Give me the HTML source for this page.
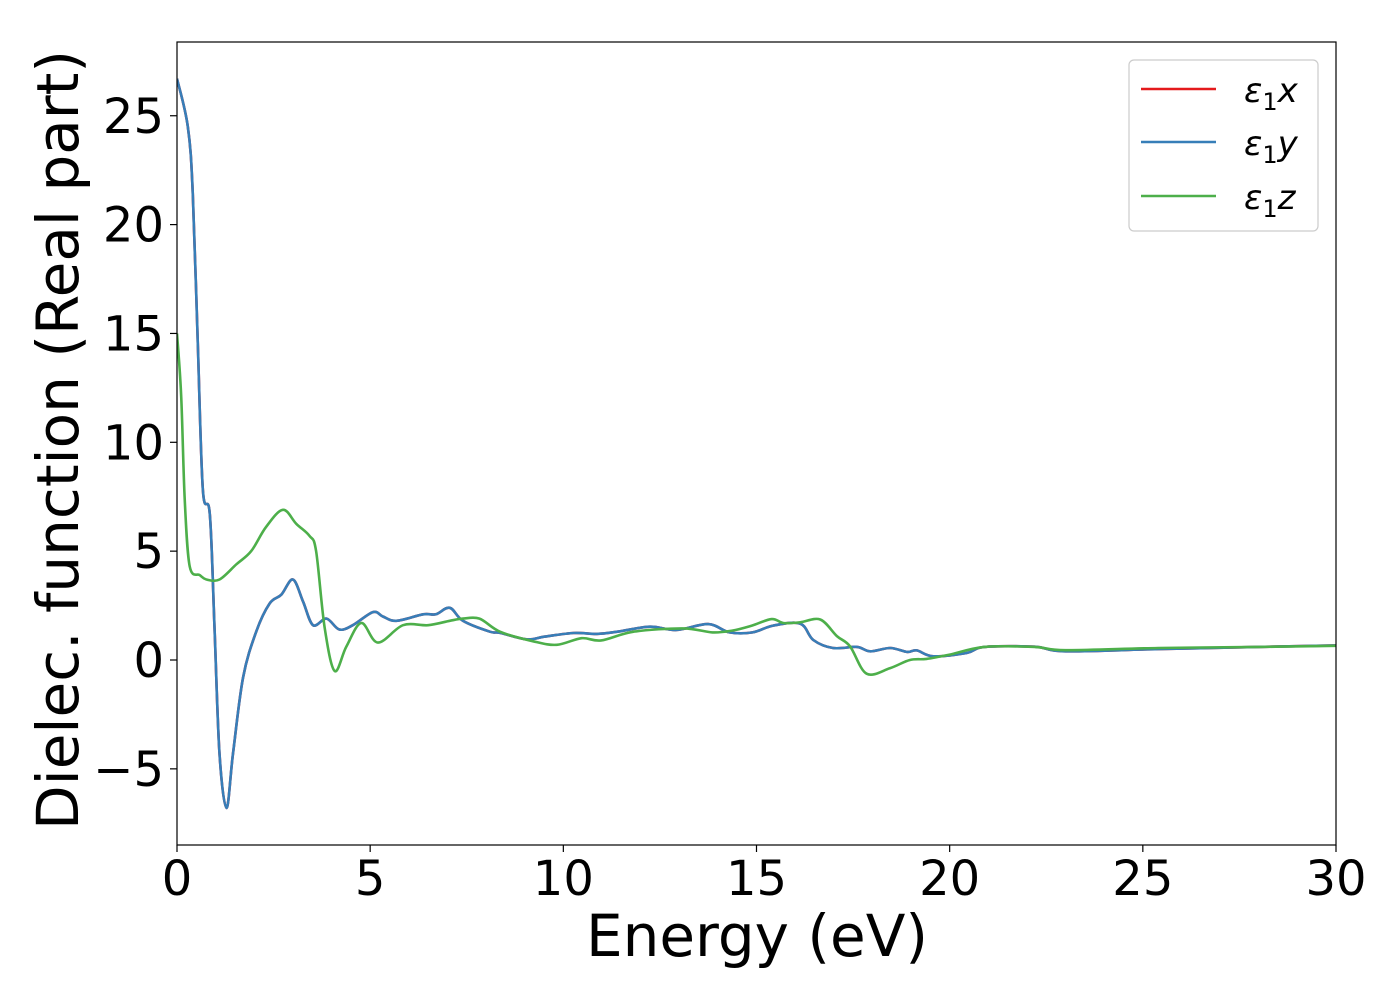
<!DOCTYPE html>
<html><head><meta charset="utf-8"><style>
html,body{margin:0;padding:0;background:#fff;}
svg text{font-family:"DejaVu Sans","Liberation Sans",sans-serif;fill:#000;}
</style></head><body>
<svg id="chart" width="1400" height="1000" viewBox="0 0 1400 1000" xmlns="http://www.w3.org/2000/svg">
<rect x="0" y="0" width="1400" height="1000" fill="#fff"/>
<g id="ticks"></g>
<g id="series" clip-path="url(#clip)"></g>
<defs><clipPath id="clip"><rect x="177" y="42" width="1159" height="803"/></clipPath></defs>
<rect x="177" y="42" width="1159" height="803" fill="none" stroke="#000" stroke-width="1.2"/>
<text x="757" y="956" font-size="58" text-anchor="middle">Energy (eV)</text>
<text transform="translate(78,440) rotate(-90)" font-size="58" text-anchor="middle">Dielec. function (Real part)</text>
<g>
<rect x="1129" y="60" width="189" height="171" rx="5" fill="#fff" stroke="#ccc" stroke-width="1.2"/>
<line x1="1141" y1="89" x2="1216" y2="89" stroke="#e41a1c" stroke-width="2.6"/>
<text x="1244" y="102" font-size="34" font-style="italic">ε<tspan font-style="normal" font-size="24" dy="8">1</tspan><tspan dy="-8">x</tspan></text>
<line x1="1141" y1="142" x2="1216" y2="142" stroke="#377eb8" stroke-width="2.6"/>
<text x="1244" y="155" font-size="34" font-style="italic">ε<tspan font-style="normal" font-size="24" dy="8">1</tspan><tspan dy="-8">y</tspan></text>
<line x1="1141" y1="196" x2="1216" y2="196" stroke="#4daf4a" stroke-width="2.6"/>
<text x="1244" y="209" font-size="34" font-style="italic">ε<tspan font-style="normal" font-size="24" dy="8">1</tspan><tspan dy="-8">z</tspan></text>
</g>
</svg>
<script>
const xTicks = [0, 5, 10, 15, 20, 25, 30];
const yTicks = [-5, 0, 5, 10, 15, 20, 25];
const yTickLabels = ["\u22125", "0", "5", "10", "15", "20", "25"];
const energyXY = [0,0.28,0.41,0.54,0.67,0.85,0.97,1.1,1.28,1.45,1.71,2.05,2.4,2.7,3.0,3.26,3.52,3.87,4.2,4.55,5.07,5.33,5.68,6.37,6.7,7.06,7.4,8.1,8.36,9.05,9.5,10.26,10.87,11.4,12.24,12.93,13.75,14.3,14.9,15.43,16.13,16.47,16.98,17.6,17.94,18.46,18.9,19.15,19.58,20.44,20.9,22.2,23.0,25.4,28,30];
const epsX = [26.7,24.5,21.4,14.4,7.8,6.7,1.5,-4.3,-6.8,-4.3,-0.8,1.3,2.6,3.0,3.7,2.7,1.6,1.9,1.4,1.6,2.2,2.0,1.8,2.1,2.1,2.4,1.8,1.3,1.25,0.95,1.07,1.24,1.2,1.3,1.53,1.38,1.65,1.27,1.27,1.58,1.67,0.92,0.55,0.6,0.4,0.55,0.37,0.44,0.17,0.32,0.6,0.61,0.4,0.5,0.6,0.67];
const epsY = epsX.slice();
const energyZ = [0,0.11,0.2,0.33,0.59,0.76,1.1,1.54,1.92,2.3,2.74,3.09,3.43,3.6,3.82,4.08,4.38,4.77,5.2,5.85,6.5,7.06,7.4,7.83,8.36,9.22,9.83,10.47,10.98,11.82,13.1,13.86,14.37,14.88,15.39,15.7,16.13,16.65,17.08,17.42,17.85,18.46,18.97,19.4,20.0,20.9,22.2,23.0,25.4,28,30];
const epsZ = [15.0,12.1,7.4,4.3,3.9,3.7,3.7,4.4,5.0,6.1,6.9,6.25,5.7,5.0,1.5,-0.5,0.6,1.7,0.8,1.6,1.6,1.8,1.9,1.9,1.3,0.86,0.7,1.0,0.9,1.3,1.45,1.27,1.35,1.58,1.88,1.7,1.73,1.86,1.1,0.63,-0.63,-0.37,0.0,0.05,0.25,0.6,0.6,0.45,0.55,0.6,0.65];

const X0 = 177, X1 = 1336, XMIN = 0, XMAX = 30;
const YZERO = 660, YPX = 21.77;
function sx(v){ return X0 + (v - XMIN) / (XMAX - XMIN) * (X1 - X0); }
function sy(v){ return YZERO - v * YPX; }
const NS = "http://www.w3.org/2000/svg";
const ticksG = document.getElementById('ticks');
xTicks.forEach(t => {
  const l = document.createElementNS(NS, 'line');
  
  
  l.setAttribute('x1', sx(t)); l.setAttribute('x2', sx(t));
  l.setAttribute('y1', 845); l.setAttribute('y2', 852);
  l.setAttribute('stroke', '#000'); l.setAttribute('stroke-width', '1.2');
  ticksG.appendChild(l);
  const tx = document.createElementNS(NS, 'text');
  
  
  tx.setAttribute('x', sx(t)); tx.setAttribute('y', 895);
  tx.setAttribute('font-size', '48'); tx.setAttribute('text-anchor', 'middle');
  tx.textContent = String(t);
  ticksG.appendChild(tx);
});
yTicks.forEach((t, i) => {
  const l = document.createElementNS(NS, 'line');
  
  
  l.setAttribute('x1', 170); l.setAttribute('x2', 177);
  l.setAttribute('y1', sy(t)); l.setAttribute('y2', sy(t));
  l.setAttribute('stroke', '#000'); l.setAttribute('stroke-width', '1.2');
  ticksG.appendChild(l);
  const tx = document.createElementNS(NS, 'text');
  
  
  tx.setAttribute('x', 164); tx.setAttribute('y', sy(t) + 17);
  tx.setAttribute('font-size', '48'); tx.setAttribute('text-anchor', 'end');
  tx.textContent = yTickLabels[i];
  ticksG.appendChild(tx);
});
function smoothPath(xs, ys){
  const p = xs.map((x, i) => [sx(x), sy(ys[i])]);
  let d = 'M' + p[0][0].toFixed(1) + ',' + p[0][1].toFixed(1);
  for (let i = 0; i < p.length - 1; i++) {
    const p0 = p[Math.max(0, i - 1)], p1 = p[i], p2 = p[i + 1], p3 = p[Math.min(p.length - 1, i + 2)];
    const t = 0.5 / 3;
    const c1 = [p1[0] + (p2[0] - p0[0]) * t, p1[1] + (p2[1] - p0[1]) * t];
    const c2 = [p2[0] - (p3[0] - p1[0]) * t, p2[1] - (p3[1] - p1[1]) * t];
    d += ' C' + c1[0].toFixed(1) + ',' + c1[1].toFixed(1) + ' ' + c2[0].toFixed(1) + ',' + c2[1].toFixed(1) + ' ' + p2[0].toFixed(1) + ',' + p2[1].toFixed(1);
  }
  return d;
}
const seriesG = document.getElementById('series');
function addSeries(name, xs, ys, color){
  const path = document.createElementNS(NS, 'path');
  
  
  path.setAttribute('d', smoothPath(xs, ys));
  path.setAttribute('fill', 'none');
  path.setAttribute('stroke', color);
  path.setAttribute('stroke-width', '2.6');
  path.setAttribute('stroke-linejoin', 'round');
  seriesG.appendChild(path);
}
addSeries('eps1-x-line', energyXY, epsX, '#e41a1c');
addSeries('eps1-y-line', energyXY, epsY, '#377eb8');
addSeries('eps1-z-line', energyZ, epsZ, '#4daf4a');
</script>
</body></html>
